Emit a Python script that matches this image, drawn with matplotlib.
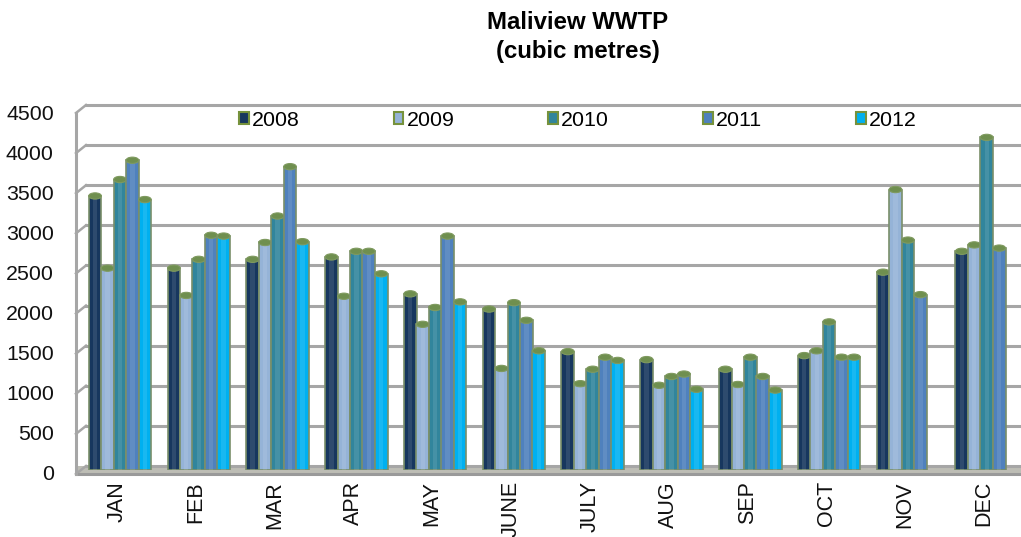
import numpy as np
import matplotlib
matplotlib.use('Agg')
import matplotlib.pyplot as plt
from matplotlib.patches import Ellipse
from matplotlib.transforms import Affine2D

plt.rcParams['font.family'] = ['Liberation Sans', 'DejaVu Sans']

months = ['JAN', 'FEB', 'MAR', 'APR', 'MAY', 'JUNE', 'JULY', 'AUG', 'SEP', 'OCT', 'NOV', 'DEC']
years = ['2008', '2009', '2010', '2011', '2012']
v2008 = [3455, 2555, 2665, 2695, 2235, 2045, 1515, 1415, 1295, 1465, 2505, 2765]
v2009 = [2555, 2215, 2875, 2205, 1855, 1305, 1115, 1095, 1105, 1525, 3535, 2845]
v2010 = [3660, 2665, 3205, 2765, 2065, 2125, 1295, 1205, 1445, 1885, 2905, 4185]
v2011 = [3900, 2965, 3820, 2765, 2955, 1905, 1445, 1235, 1205, 1445, 2225, 2805]
v2012 = [3410, 2955, 2885, 2485, 2135, 1525, 1405, 1045, 1035, 1445, 0, 0]
series = [v2008, v2009, v2010, v2011, v2012]
colors = ['#17375E', '#95B3D7', '#31859C', '#4F81BD', '#00B0F0']
yticks = [0, 500, 1000, 1500, 2000, 2500, 3000, 3500, 4000, 4500]

W, H = 1021, 537
fig = plt.figure(figsize=(W / 100, H / 100), dpi=100)
ax = fig.add_axes([76 / W, (H - 470) / H, 945 / W, 361 / H])
ax.set_xlim(-0.558, 11.435)
ax.set_ylim(0, 4500)
ax.patch.set_alpha(0)
for s in ax.spines.values():
    s.set_visible(False)

grid = '#A6A6A6'
back = ax.transData + Affine2D().translate(10, 4)
front = ax.transData + Affine2D().translate(0, -4)
xl, xr = ax.get_xlim()
depth = 10 / 78.8
rise = 8 / 0.0802

# floor and walls of the fake 3d box
ax.fill_between([xl, xr], 0, rise, transform=front, color='#BDBDB5', lw=0, zorder=1, clip_on=False)
ax.plot([xl, xr], [0, 0], transform=front, color='#9A9A9A', lw=2.2, zorder=2, clip_on=False)
ax.plot([xl, xl], [0, 4500], transform=front, color=grid, lw=2.2, zorder=2, clip_on=False)
for v in yticks:
    ax.plot([xl, xr], [v, v], transform=back, color=grid, lw=2.2, zorder=1, clip_on=False)
    ax.plot([xl, xl + depth], [v, v + rise], transform=front, color=grid, lw=1.8, zorder=1, clip_on=False)

bw = 0.158
cap = 78
for k, vals in enumerate(series):
    xs = np.arange(12) + (k - 2) * bw
    tops = np.array(vals, dtype=float)
    has = tops > 0
    ax.bar(xs[has], tops[has] - cap / 2, bw * 1.02, color=colors[k], edgecolor='#7A8F6A',
           linewidth=1.2, zorder=3 + k)
    ax.bar(xs[has], tops[has] - cap, bw * 0.35, color='white', alpha=0.1, linewidth=0, zorder=3 + k)
    for x, t in zip(xs[has], tops[has]):
        ax.add_patch(Ellipse((x, t - cap / 2), bw * 1.02, cap, fc='#6F8F4F', ec='#7F9A5F', lw=0.8,
                             zorder=3 + k))

ax.set_yticks(yticks)
ax.set_yticklabels([str(v) for v in yticks], fontsize=15.4, color='#111111')
ax.tick_params(axis='y', length=0, pad=16)
for t in ax.get_yticklabels():
    t.set_transform(t.get_transform() + Affine2D().translate(0, -3))
ax.set_xticks(np.arange(12) - 3 / 78.8)
ax.set_xticklabels(months, rotation=90, fontsize=15.5, color='#111111')
ax.tick_params(axis='x', length=0, pad=8)

handles = [plt.Rectangle((0, 0), 1, 1, fc=c, ec='#76923C', lw=1.5) for c in colors]
fig.legend(handles, years, ncol=5, frameon=False, fontsize=15.4, loc='center', bbox_to_anchor=(578 / W, (H - 120) / H),
           handlelength=0.45, handleheight=0.45, handletextpad=0.15, columnspacing=4.4)

fig.text(578 / W, (H - 37) / H, 'Maliview WWTP\n(cubic metres)', ha='center', va='center', fontsize=17.3,
         fontweight='bold', linespacing=1.28)

fig.savefig('out.png', dpi=100)
plt.close()
